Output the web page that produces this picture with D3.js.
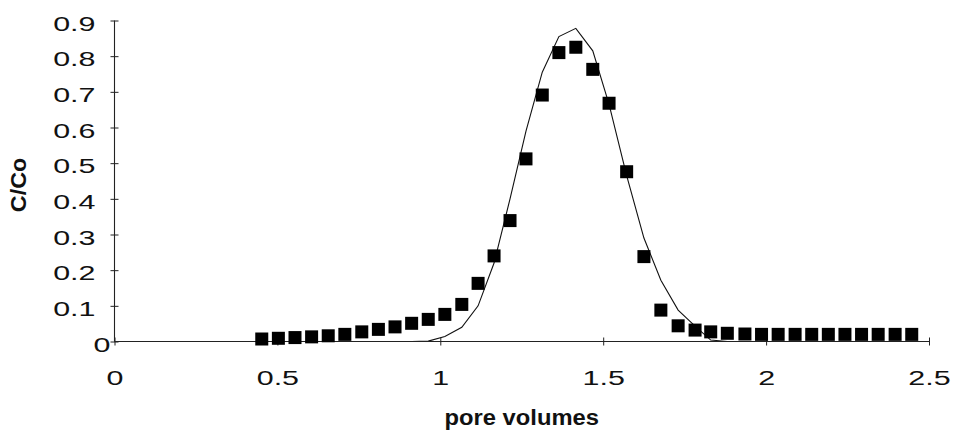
<!DOCTYPE html>
<html>
<head>
<meta charset="utf-8">
<script src="https://cdn.jsdelivr.net/npm/d3@7/dist/d3.min.js"></script>
<style>
  html, body { margin: 0; padding: 0; background: #fff; }
  svg { display: block; }
</style>
</head>
<body>
<svg id="chart" width="953" height="440"></svg>
<script>
// ---- data ----
const poreVolumes = [0.452, 0.503, 0.554, 0.605, 0.656, 0.707, 0.759, 0.810, 0.861, 0.912,
  0.963, 1.014, 1.066, 1.116, 1.165, 1.214, 1.263, 1.313, 1.364, 1.416,
  1.468, 1.518, 1.572, 1.625, 1.677, 1.730, 1.782, 1.830, 1.881, 1.935,
  1.986, 2.037, 2.089, 2.140, 2.191, 2.242, 2.293, 2.344, 2.396, 2.447];
const measured = [0.007, 0.009, 0.011, 0.013, 0.016, 0.020, 0.027, 0.034, 0.041, 0.051,
  0.062, 0.076, 0.104, 0.163, 0.240, 0.339, 0.512, 0.691, 0.810, 0.825,
  0.763, 0.668, 0.476, 0.238, 0.088, 0.044, 0.032, 0.027, 0.023, 0.021,
  0.020, 0.020, 0.020, 0.020, 0.020, 0.020, 0.020, 0.020, 0.020, 0.020];
const modelX = [0, 0.452, 0.503, 0.554, 0.605, 0.656, 0.707, 0.759, 0.810, 0.861, 0.912,
  0.963, 1.014, 1.066, 1.116, 1.165, 1.214, 1.263, 1.313, 1.364, 1.416,
  1.468, 1.518, 1.572, 1.625, 1.677, 1.730, 1.782, 1.830, 1.881, 1.935,
  1.986, 2.037, 2.089, 2.140, 2.191, 2.242, 2.293, 2.344, 2.396, 2.447];
const modelY = [0, 0, 0, 0, 0, 0, 0, 0, 0, 0, 0,
  0.001, 0.014, 0.040, 0.100, 0.220, 0.400, 0.590, 0.755, 0.855, 0.878,
  0.815, 0.665, 0.465, 0.290, 0.172, 0.088, 0.043, 0.004, 0, 0,
  0, 0, 0, 0, 0, 0, 0, 0, 0, 0];
const xTicks = [0, 0.5, 1, 1.5, 2, 2.5];
const xTickLabels = ["0", "0.5", "1", "1.5", "2", "2.5"];
const yTicks = [0, 0.1, 0.2, 0.3, 0.4, 0.5, 0.6, 0.7, 0.8, 0.9];
const yTickLabels = ["0", "0.1", "0.2", "0.3", "0.4", "0.5", "0.6", "0.7", "0.8", "0.9"];
const xTitle = "pore volumes";
const yTitle = "C/Co";

// ---- layout ----
const svg = d3.select("#chart");
const x = d3.scaleLinear().domain([0, 2.5]).range([114.5, 929]);
const y = d3.scaleLinear().domain([0, 0.9]).range([341.5, 20.5]);
const FONT = "'Liberation Sans', Arial, Helvetica, sans-serif";
const STRETCH = 1.45;

// model line (drawn first, under markers)
const line = d3.line().x((d, i) => x(modelX[i])).y((d, i) => y(modelY[i]));
svg.append("path")
  .datum(modelY)
  .attr("d", line)
  .attr("fill", "none")
  .attr("stroke", "#111")
  .attr("stroke-width", 1.1);

// x axis
const xAxis = d3.axisBottom(x).tickValues(xTicks)
  .tickFormat((d, i) => xTickLabels[i]).tickSizeOuter(0).tickSize(4);
const gx = svg.append("g").attr("transform", `translate(0,${y(0)})`).call(xAxis);
gx.select(".domain").attr("stroke", "#222").attr("stroke-width", 1.1)
  .attr("d", `M${x(0)},0H${x(2.5)}`);
gx.selectAll(".tick line").attr("y1", -4).attr("y2", 4).attr("stroke", "#222");
gx.selectAll(".tick text")
  .attr("y", 0).attr("dy", null)
  .attr("transform", `translate(0,43.5) scale(${STRETCH},1)`)
  .attr("font-family", FONT).attr("font-size", 21).attr("fill", "#111");

// y axis
const yAxis = d3.axisLeft(y).tickValues(yTicks)
  .tickFormat((d, i) => yTickLabels[i]).tickSizeOuter(0).tickSize(4);
const gy = svg.append("g").attr("transform", `translate(${x(0)},0)`).call(yAxis);
gy.select(".domain").attr("stroke", "#222").attr("stroke-width", 1.1)
  .attr("d", `M0,${y(0)}V${y(0.9)}`);
gy.selectAll(".tick line").attr("x1", -4).attr("x2", 4).attr("stroke", "#222");
gy.selectAll(".tick text")
  .attr("x", 0).attr("dy", null)
  .attr("transform", d => `translate(${d === 0 ? -4 : -19},9.5) scale(${STRETCH},1)`)
  .attr("text-anchor", "end")
  .attr("font-family", FONT).attr("font-size", 21).attr("fill", "#111");

// markers
const S = 13;
svg.append("g").selectAll("rect")
  .data(measured)
  .join("rect")
  .attr("x", (d, i) => x(poreVolumes[i]) - S / 2)
  .attr("y", d => y(d) - S / 2)
  .attr("width", S).attr("height", S)
  .attr("fill", "#000");

// titles
svg.append("text")
  .attr("transform", `translate(${(x(0) + x(2.5)) / 2},425) scale(1.08,1)`)
  .attr("text-anchor", "middle")
  .attr("font-family", FONT).attr("font-weight", "bold").attr("font-size", 22)
  .attr("fill", "#111")
  .text(xTitle);
svg.append("text")
  .attr("transform", `translate(26,185) rotate(-90) scale(1.06,1)`)
  .attr("text-anchor", "middle")
  .attr("font-family", FONT).attr("font-weight", "bold").attr("font-size", 22)
  .attr("fill", "#111")
  .text(yTitle);
</script>
</body>
</html>
